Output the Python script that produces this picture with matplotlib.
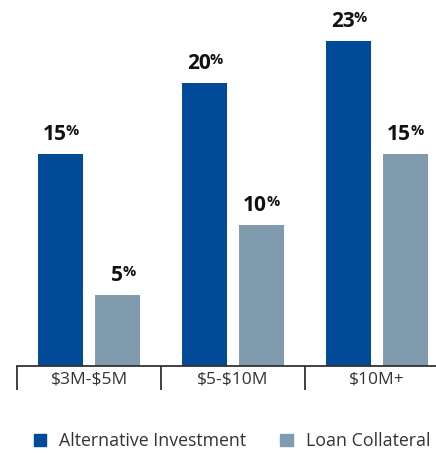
import matplotlib.pyplot as plt
import matplotlib.transforms as mtransforms
import numpy as np
from matplotlib.patches import Patch

# Dados
categories = [r"\$3M-\$5M", r"\$5-\$10M", r"\$10M+"]
alternative = [15, 20, 23]
collateral = [5, 10, 15]

BLUE = "#004a97"
GRAY = "#7f9bad"

plt.rcParams['font.family'] = ['Open Sans', 'DejaVu Sans']

fig = plt.figure(figsize=(4.36, 4.53), dpi=100)
ax = fig.add_axes([17 / 436, 87 / 453, 432 / 436, 366 / 453])

x = np.arange(len(categories))
w = 0.3125
off = 0.195
bars_a = ax.bar(x - off, alternative, w, color=BLUE)
bars_c = ax.bar(x + off, collateral, w, color=GRAY)

ax.set_xlim(-0.5, 2.5)
ax.set_ylim(0, 366 / 14.15)

# Rótulos: número em negrito, "%" menor e elevado
for bars, vals in [(bars_a, alternative), (bars_c, collateral)]:
    for b, v in zip(bars, vals):
        cx = b.get_x() + b.get_width() / 2
        base = mtransforms.offset_copy(ax.transData, fig=fig, x=4, y=10, units='points')
        ax.text(cx, v, str(v), transform=base, ha='right', va='baseline',
                fontsize=15, fontweight='bold', color='#111111')
        pct = mtransforms.offset_copy(ax.transData, fig=fig, x=3.6, y=13.5, units='points')
        ax.text(cx, v, "%", transform=pct, ha='left', va='baseline',
                fontsize=10.5, fontweight='bold', color='#111111')

# Eixos
for s in ['left', 'right', 'top']:
    ax.spines[s].set_visible(False)
ax.spines['bottom'].set_color('#333333')
ax.spines['bottom'].set_linewidth(1.3)
ax.set_yticks([])
ax.set_xticks(x)
ax.set_xticklabels(categories, fontsize=12.5, color='#333333')
ax.tick_params(axis='x', which='major', length=0, pad=4)
ax.set_xticks([-0.5, 0.5, 1.5], minor=True)
ax.tick_params(axis='x', which='minor', length=17, width=1.3, color='#333333')

handles = [Patch(color=BLUE, label="Alternative Investment"),
           Patch(color=GRAY, label="Loan Collateral")]
fig.legend(handles=handles, loc='center', bbox_to_anchor=(232 / 436, 1 - 441 / 453),
           ncol=2, frameon=False, fontsize=12.8, handlelength=0.7, handleheight=0.7,
           handletextpad=0.75, columnspacing=1.9, labelcolor='#333333')

fig.savefig("out.png", dpi=100)
